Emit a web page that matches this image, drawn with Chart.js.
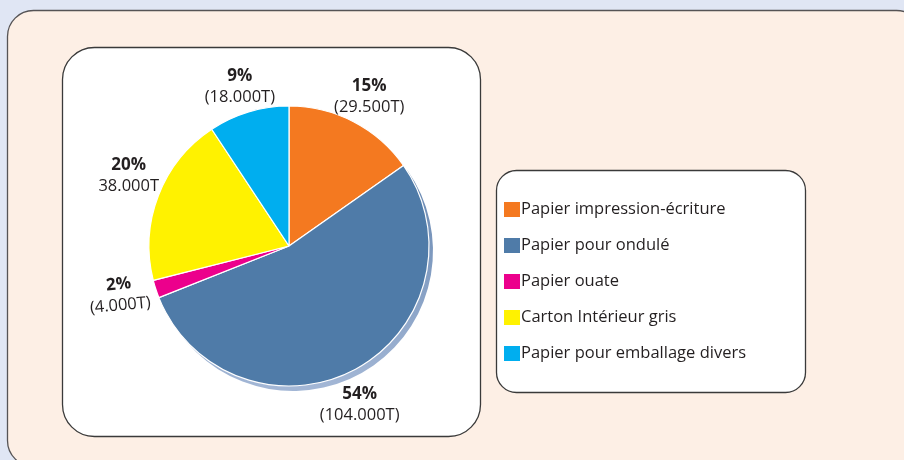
<!DOCTYPE html>
<html>
<head>
<meta charset="utf-8">
<script src="https://cdn.jsdelivr.net/npm/chart.js@4"></script>
<style>
  html, body { margin: 0; padding: 0; background: #e0e6f4; }
  #wrap { position: relative; width: 904px; height: 460px; }
</style>
</head>
<body>
<div id="wrap"><canvas id="myChart" width="904" height="460"></canvas></div>
<script>
const categories = [
  "Papier impression-écriture",
  "Papier pour ondulé",
  "Papier ouate",
  "Carton Intérieur gris",
  "Papier pour emballage divers",
];
const tonnes = [29500, 104000, 4000, 38000, 18000];
const percentLabels = ["15%", "54%", "2%", "20%", "9%"];
const tonneLabels = ["(29.500T)", "(104.000T)", "(4.000T)", "38.000T", "(18.000T)"];
const sliceColors = ["#f47920", "#4f7ba8", "#ec008c", "#fff200", "#00aeef"];

// the outside labels were placed by hand in the original
const labelNudge = [[0, 5], [-12, 5], [-4, -5], [2, -8], [1, 7]];
const labelTilt = [0, 0, -0.09, 0, 0];

const FONT = "'Open Sans', sans-serif";
const TEXT = "#231f20";

function roundBox(ctx, x, y, w, h, r, fill, stroke) {
  ctx.beginPath();
  ctx.roundRect(x, y, w, h, r);
  ctx.fillStyle = fill;
  ctx.fill();
  ctx.lineWidth = 1.3;
  ctx.strokeStyle = stroke;
  ctx.stroke();
}

// background panels
const panels = {
  id: "panels",
  beforeDraw(chart) {
    const ctx = chart.ctx;
    ctx.save();
    ctx.fillStyle = "#e0e6f4";
    ctx.fillRect(0, 0, chart.width, chart.height);
    roundBox(ctx, 7.5, 10.5, 915, 456, 26, "#fdefe5", "#555355");
    roundBox(ctx, 62.5, 47.5, 418, 389, 32, "#ffffff", "#3a3a3a");
    roundBox(ctx, 496.5, 170.5, 309, 222, 20, "#ffffff", "#3a3a3a");
    ctx.restore();
  },
};

// raised edge under the big slice
const sliceShadow = {
  id: "sliceShadow",
  beforeDatasetsDraw(chart) {
    const arc = chart.getDatasetMeta(0).data[1];
    const ctx = chart.ctx;
    const dx = 4, dy = 5;
    ctx.save();
    const g = ctx.createLinearGradient(arc.x, arc.y - arc.outerRadius, arc.x, arc.y + arc.outerRadius);
    g.addColorStop(0, "#5579a6");
    g.addColorStop(1, "#a2b6d5");
    ctx.beginPath();
    ctx.moveTo(arc.x + dx, arc.y + dy);
    ctx.arc(arc.x + dx, arc.y + dy, arc.outerRadius, arc.startAngle, arc.endAngle);
    ctx.closePath();
    ctx.fillStyle = g;
    ctx.fill();
    ctx.restore();
  },
};

// outside labels and legend
const labelsAndLegend = {
  id: "labelsAndLegend",
  afterDatasetsDraw(chart) {
    const ctx = chart.ctx;
    const arcs = chart.getDatasetMeta(0).data;
    ctx.save();
    ctx.fillStyle = TEXT;
    ctx.textAlign = "center";
    ctx.textBaseline = "middle";
    arcs.forEach((arc, i) => {
      const mid = (arc.startAngle + arc.endAngle) / 2;
      const r = arc.outerRadius + 34;
      const x = arc.x + Math.cos(mid) * r + labelNudge[i][0];
      const y = arc.y + Math.sin(mid) * r + labelNudge[i][1];
      ctx.save();
      ctx.translate(x, y);
      ctx.rotate(labelTilt[i]);
      ctx.font = "bold 17px " + FONT;
      ctx.fillText(percentLabels[i], 0, -10);
      ctx.font = "16.5px " + FONT;
      ctx.fillText(tonneLabels[i], 0, 11);
      ctx.restore();
    });

    ctx.textAlign = "left";
    const colors = chart.data.datasets[0].backgroundColor;
    chart.data.labels.forEach((label, i) => {
      const y = 209 + i * 36;
      ctx.fillStyle = colors[i];
      ctx.fillRect(504, y - 7, 16, 15);
      ctx.fillStyle = TEXT;
      ctx.font = "16.5px " + FONT;
      ctx.fillText(label, 521, y);
    });
    ctx.restore();
  },
};

const myChart = new Chart(document.getElementById("myChart"), {
  type: "pie",
  data: {
    labels: categories,
    datasets: [
      {
        data: tonnes,
        backgroundColor: sliceColors,
        borderColor: "#ffffff",
        borderWidth: 1.2,
        radius: 140,
      },
    ],
  },
  options: {
    responsive: false,
    animation: false,
    events: [],
    layout: {
      padding: { left: 149, right: 475, top: 106, bottom: 74 },
    },
    plugins: {
      legend: { display: false },
      tooltip: { enabled: false },
    },
  },
  plugins: [panels, sliceShadow, labelsAndLegend],
});
</script>
</body>
</html>
